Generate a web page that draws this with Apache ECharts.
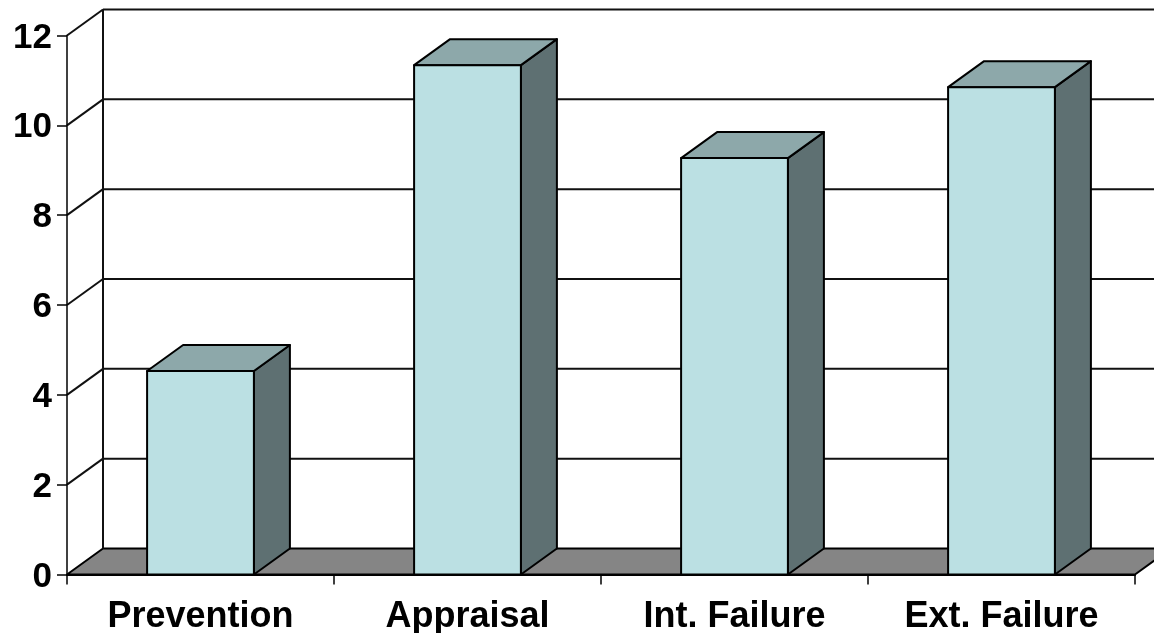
<!DOCTYPE html>
<html>
<head>
<meta charset="utf-8">
<style>
  html, body { margin: 0; padding: 0; background: #fff; }
  #chart { width: 1154px; height: 633px; }
</style>
<script src="https://cdn.jsdelivr.net/npm/echarts@6/dist/echarts.min.js"></script>
</head>
<body>
<div id="chart"></div>
<script>
  var categories = ['Prevention', 'Appraisal', 'Int. Failure', 'Ext. Failure'];
  var costValues = [4.53, 11.34, 9.27, 10.85];
  var yTicks = [0, 2, 4, 6, 8, 10, 12];

  // fake 3D depth, px
  var depthX = 36;
  var depthY = 26;
  var lineStyle = { stroke: '#111', lineWidth: 2, lineJoin: 'round' };

  function poly (points, fill) {
    return {
      type: 'polygon',
      shape: { points: points },
      style: { fill: fill, stroke: '#000', lineWidth: 2, lineJoin: 'round' }
    };
  }

  function renderFloor (params, api) {
    var cs = params.coordSys;
    var y = api.coord([0, 0])[1];
    return poly([
      [cs.x, y],
      [cs.x + depthX, y - depthY],
      [cs.x + cs.width + depthX, y - depthY],
      [cs.x + cs.width, y]
    ], '#858585');
  }

  // side wall diagonal + back wall line for each tick
  function renderWall (params, api) {
    var cs = params.coordSys;
    var y = api.coord([0, api.value(1)])[1];
    return {
      type: 'group',
      children: [
        { type: 'line', shape: { x1: cs.x, y1: y, x2: cs.x + depthX, y2: y - depthY }, style: lineStyle },
        { type: 'line', shape: { x1: cs.x + depthX, y1: y - depthY, x2: cs.x + cs.width + depthX, y2: y - depthY }, style: lineStyle }
      ]
    };
  }

  function renderBackEdge (params, api) {
    var cs = params.coordSys;
    var bottom = api.coord([0, 0])[1];
    var top = api.coord([0, yTicks[yTicks.length - 1]])[1];
    return {
      type: 'line',
      shape: { x1: cs.x + depthX, y1: bottom - depthY, x2: cs.x + depthX, y2: top - depthY },
      style: lineStyle
    };
  }

  function renderBar (params, api) {
    var p = api.coord([api.value(0), api.value(1)]);
    var base = api.coord([api.value(0), 0])[1];
    var w = api.size([1, 0])[0] / 2.5;
    var l = p[0] - w / 2;
    var r = p[0] + w / 2;
    var t = p[1];
    return {
      type: 'group',
      children: [
        poly([[r, t], [r + depthX, t - depthY], [r + depthX, base - depthY], [r, base]], '#5E7072'),
        poly([[l, t], [l + depthX, t - depthY], [r + depthX, t - depthY], [r, t]], '#8DA8AA'),
        poly([[l, t], [r, t], [r, base], [l, base]], '#BBE0E3')
      ]
    };
  }

  var myChart = echarts.init(document.getElementById('chart'));
  myChart.setOption({
    animation: false,
    backgroundColor: '#fff',
    grid: { left: 67, right: 19, top: 35.5, bottom: 58.5, outerBoundsMode: 'none' },
    xAxis: {
      type: 'category',
      data: categories,
      z: 5,
      axisLine: { lineStyle: { color: '#000', width: 2 } },
      axisTick: { show: true, length: 10, lineStyle: { color: '#000', width: 1.5 } },
      axisLabel: {
        color: '#000',
        fontFamily: 'Liberation Sans',
        fontWeight: 'bold',
        fontSize: 36,
        margin: 25,
        interval: 0
      }
    },
    yAxis: {
      type: 'value',
      min: 0,
      max: 12,
      interval: 2,
      z: 5,
      splitLine: { show: false },
      axisLine: { show: true, lineStyle: { color: '#000', width: 1.5 } },
      axisTick: { show: true, length: 10, lineStyle: { color: '#000', width: 1.5 } },
      axisLabel: {
        color: '#000',
        fontFamily: 'Liberation Sans',
        fontWeight: 'bold',
        fontSize: 35,
        margin: 15,
        verticalAlign: 'top',
        lineHeight: 5
      }
    },
    series: [
      { type: 'custom', renderItem: renderFloor, data: [[0, 0]], silent: true, z: 1 },
      { type: 'custom', renderItem: renderWall, data: yTicks.slice(1).map(function (t) { return [0, t]; }), silent: true, z: 2 },
      { type: 'custom', renderItem: renderBackEdge, data: [[0, 0]], silent: true, z: 2 },
      {
        type: 'custom',
        renderItem: renderBar,
        data: categories.map(function (c, i) { return [i, costValues[i]]; }),
        z: 3
      }
    ]
  });
</script>
</body>
</html>
